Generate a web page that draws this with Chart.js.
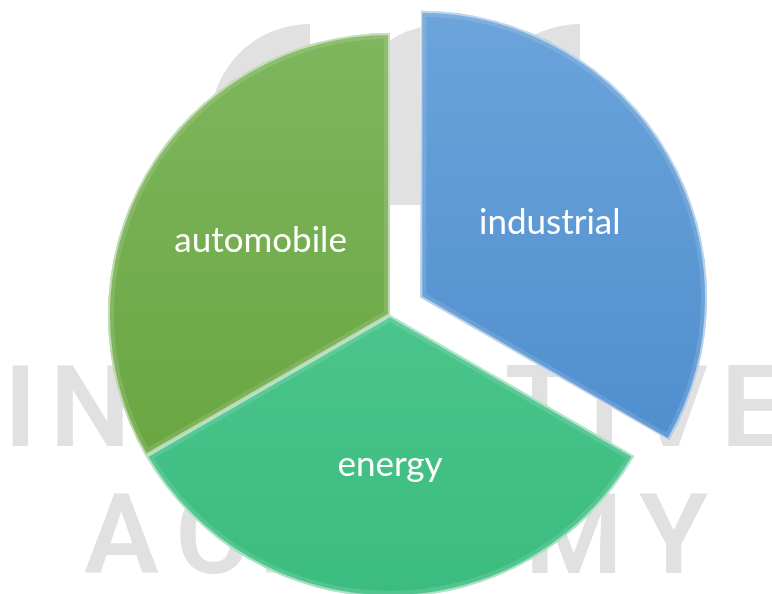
<!DOCTYPE html>
<html>
<head>
<meta charset="utf-8">
<script src="https://cdn.jsdelivr.net/npm/chart.js@4.4.1/dist/chart.umd.min.js"></script>
<style>
  html, body { margin: 0; padding: 0; background: #fff; }
  #chart-container { width: 772px; height: 594px; }
</style>
</head>
<body>
<div id="chart-container"><canvas id="pie-chart" width="772" height="594"></canvas></div>
<script>
// Datos del gráfico
const labels = ['industrial', 'energy', 'automobile'];
const values = [1, 1, 1];
const topColors = ['#6DA5DB', '#5BCE97', '#80B760'];
const bottomColors = ['#4687CA', '#3BBC7F', '#62A137'];
const explode = [140, 0, 0]; // chart.js divide el offset por 4 al dibujar

// Marca de agua del fondo
const watermarkLines = ['INNOVATIVE', 'ACADEMY'];

const watermark = {
    id: 'watermark',
    beforeDraw(chart) {
        const ctx = chart.ctx;
        ctx.save();
        ctx.fillStyle = '#fff';
        ctx.fillRect(0, 0, chart.width, chart.height);
        ctx.fillStyle = '#e1e1e1';

        // logo: tres bloques con la esquina redondeada
        [310, 445, 580].forEach(cx => {
            ctx.beginPath();
            ctx.moveTo(cx - 100, 205);
            ctx.lineTo(cx - 100, 124);
            ctx.arc(cx, 124, 100, Math.PI, 1.5 * Math.PI);
            ctx.lineTo(cx, 205);
            ctx.closePath();
            ctx.fill();
        });

        // texto con espaciado repartido
        const drawSpread = (text, x0, x1, baseline, size) => {
            ctx.font = '600 ' + size + 'px Roboto';
            ctx.textBaseline = 'alphabetic';
            ctx.textAlign = 'left';
            const chars = text.split('');
            const widths = chars.map(c => ctx.measureText(c).width);
            const total = widths.reduce((a, b) => a + b, 0);
            const gap = (x1 - x0 - total) / (chars.length - 1);
            let x = x0;
            chars.forEach((c, i) => {
                ctx.fillText(c, x, baseline);
                x += widths[i] + gap;
            });
        };
        drawSpread(watermarkLines[0], 4, 785, 446, 114);
        drawSpread(watermarkLines[1], 84, 708, 573, 112);
        ctx.restore();
    }
};

// Brillo en los bordes de cada porción
const bevel = {
    id: 'bevel',
    afterDatasetsDraw(chart) {
        const ctx = chart.ctx;
        chart.getDatasetMeta(0).data.forEach((arc, i) => {
            const off = (arc.options.offset || 0) / 4;
            const mid = (arc.startAngle + arc.endAngle) / 2;
            const fix = 1 - Math.sin(Math.min(Math.PI, arc.circumference));
            const r = arc.outerRadius + off * fix;
            const cx = arc.x + Math.cos(mid) * off;
            const cy = arc.y + Math.sin(mid) * off;
            ctx.save();
            ctx.beginPath();
            ctx.moveTo(cx, cy);
            ctx.arc(cx, cy, r, arc.startAngle, arc.endAngle);
            ctx.closePath();
            ctx.clip();
            ctx.lineJoin = 'miter';
            ctx.strokeStyle = 'rgba(255,255,255,0.12)';
            ctx.lineWidth = 12;
            ctx.stroke();
            ctx.strokeStyle = 'rgba(255,255,255,0.5)';
            ctx.lineWidth = 4;
            ctx.stroke();
            ctx.restore();
        });
    }
};

// Etiquetas dentro de las porciones
const sliceLabels = {
    id: 'sliceLabels',
    afterDatasetsDraw(chart) {
        const ctx = chart.ctx;
        ctx.save();
        ctx.fillStyle = '#fff';
        ctx.font = '35px Lato';
        ctx.textAlign = 'center';
        ctx.textBaseline = 'middle';
        chart.getDatasetMeta(0).data.forEach((arc, i) => {
            const off = (arc.options.offset || 0) / 4;
            const mid = (arc.startAngle + arc.endAngle) / 2;
            const d = off + arc.outerRadius * 0.53;
            ctx.fillText(chart.data.labels[i], arc.x + Math.cos(mid) * d, arc.y + Math.sin(mid) * d);
        });
        ctx.restore();
    }
};

const canvas = document.getElementById('pie-chart');
new Chart(canvas.getContext('2d'), {
    type: 'pie',
    data: {
        labels: labels,
        datasets: [{
            data: values,
            backgroundColor: (c) => {
                const i = c.dataIndex;
                const g = c.chart.ctx.createLinearGradient(0, 10, 0, 600);
                g.addColorStop(0, topColors[i]);
                g.addColorStop(1, bottomColors[i]);
                return g;
            },
            borderWidth: 0,
            offset: explode,
            hoverOffset: 0,
        }],
    },
    options: {
        responsive: false,
        animation: false,
        radius: 282,
        layout: { padding: { left: 8, right: 0, top: 36, bottom: 0 } },
        plugins: {
            legend: { display: false },
            tooltip: { enabled: false },
        },
    },
    plugins: [watermark, bevel, sliceLabels],
});
</script>
</body>
</html>
